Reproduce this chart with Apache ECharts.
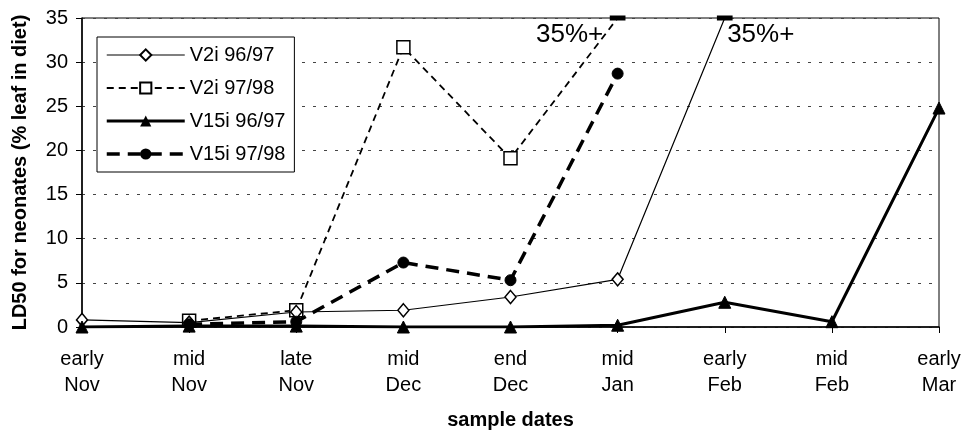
<!DOCTYPE html>
<html>
<head>
<meta charset="utf-8">
<script src="https://cdn.jsdelivr.net/npm/echarts@6/dist/echarts.min.js"></script>
<style>
html,body{margin:0;padding:0;background:#fff;}
#chart{width:962px;height:434px;}
</style>
</head>
<body>
<div id="chart"></div>
<script>
const categories = ['early\nNov','mid\nNov','late\nNov','mid\nDec','end\nDec','mid\nJan','early\nFeb','mid\nFeb','early\nMar'];
const yTicks = [0, 5, 10, 15, 20, 25, 30, 35];
const seriesNames = ['V2i 96/97', 'V2i 97/98', 'V15i 96/97', 'V15i 97/98'];
const v2i9697 = [0.8, 0.5, 1.7, 1.9, 3.4, 5.4, 35, null, null];
const v2i9798 = [null, 0.7, 1.9, 31.7, 19.1, 35, null, null, null];
const v15i9697 = [0, 0.1, 0.1, 0, 0, 0.2, 2.8, 0.6, 24.8];
const v15i9798 = [null, 0.3, 0.6, 7.3, 5.3, 28.7, null, null, null];
const capLabel = '35%+';
const capValue = 35;

const FONT = 'Liberation Sans, Arial, Helvetica, sans-serif';

const styles = [
  {symbol: 'diamond', symbolSize: [11, 13], line: {color: '#000', width: 1.2, type: 'solid'}, item: {color: '#fff', borderColor: '#000', borderWidth: 1.5}},
  {symbol: 'rect', symbolSize: 13, line: {color: '#000', width: 1.8, type: [7, 5]}, item: {color: '#fff', borderColor: '#000', borderWidth: 1.5}},
  {symbol: 'triangle', symbolSize: 12, line: {color: '#000', width: 3, type: 'solid'}, item: {color: '#000', borderColor: '#000'}},
  {symbol: 'circle', symbolSize: 11, line: {color: '#000', width: 3.5, type: [13, 8]}, item: {color: '#000', borderColor: '#000'}}
];

function withCap(arr){
  return arr.map(v => v === capValue ? {value: v, symbol: 'rect', symbolSize: [13, 4], itemStyle: {color: '#000', borderColor: '#000'}} : v);
}
function capMark(arr, offset){
  const i = arr.indexOf(capValue);
  return {
    silent: true,
    symbol: 'circle', symbolSize: 1,
    itemStyle: {color: 'rgba(0,0,0,0)'},
    label: {show: true, formatter: capLabel, color: '#000', fontFamily: FONT, fontSize: 26, offset: offset, position: 'inside'},
    data: [{coord: [i, capValue]}]
  };
}

const chart = echarts.init(document.getElementById('chart'), null, {renderer: 'canvas'});
chart.setOption({
  animation: false,
  backgroundColor: '#fff',
  textStyle: {fontFamily: FONT, color: '#000'},
  grid: {left: 82, right: 23, top: 18, bottom: 107, containLabel: false, outerBoundsMode: 'none', show: true, borderColor: '#000', borderWidth: 1, backgroundColor: 'transparent'},
  legend: {
    orient: 'vertical', left: 97, top: 37,
    padding: [8, 9, 8, 8],
    itemWidth: 78, itemHeight: 14, itemGap: 13,
    backgroundColor: '#fff', borderColor: '#000', borderWidth: 1,
    textStyle: {fontFamily: FONT, fontSize: 20, color: '#000'},
    data: seriesNames.map((n, i) => ({name: n, lineStyle: {width: styles[i].line.width, type: styles[i].line.type, color: '#000'}}))
  },
  xAxis: {
    type: 'category', data: categories, boundaryGap: false,
    name: 'sample dates', nameLocation: 'middle', nameGap: 83,
    nameTextStyle: {fontFamily: FONT, fontSize: 20, fontWeight: 'bold', color: '#000'},
    axisLine: {lineStyle: {color: '#000', width: 1.5}},
    axisTick: {show: true, alignWithLabel: true, length: 6, lineStyle: {color: '#000'}},
    axisLabel: {fontFamily: FONT, fontSize: 20, lineHeight: 26, margin: 19, color: '#000', interval: 0},
    splitLine: {show: false}
  },
  yAxis: {
    type: 'value', min: yTicks[0], max: yTicks[yTicks.length - 1], interval: 5,
    name: 'LD50 for neonates (% leaf in diet)', nameLocation: 'middle', nameGap: 52,
    nameTextStyle: {fontFamily: FONT, fontSize: 20, fontWeight: 'bold', color: '#000'},
    axisLine: {show: true, lineStyle: {color: '#000', width: 1.5}},
    axisTick: {show: true, length: 6, lineStyle: {color: '#000'}},
    axisLabel: {fontFamily: FONT, fontSize: 20, margin: 14, color: '#000'},
    splitLine: {show: true, lineStyle: {color: '#444', width: 1, type: [3, 8]}}
  },
  series: [
    {
      name: seriesNames[0], type: 'line', data: withCap(v2i9697), connectNulls: false,
      symbol: styles[0].symbol, symbolSize: styles[0].symbolSize, z: 4,
      lineStyle: styles[0].line, itemStyle: styles[0].item,
      markPoint: capMark(v2i9697, [36, 17])
    },
    {
      name: seriesNames[1], type: 'line', data: withCap(v2i9798), connectNulls: false,
      symbol: styles[1].symbol, symbolSize: styles[1].symbolSize, z: 3,
      lineStyle: styles[1].line, itemStyle: styles[1].item,
      markPoint: capMark(v2i9798, [-48, 17])
    },
    {
      name: seriesNames[2], type: 'line', data: v15i9697, connectNulls: false,
      symbol: styles[2].symbol, symbolSize: styles[2].symbolSize, z: 5,
      lineStyle: styles[2].line, itemStyle: styles[2].item
    },
    {
      name: seriesNames[3], type: 'line', data: v15i9798, connectNulls: false,
      symbol: styles[3].symbol, symbolSize: styles[3].symbolSize, z: 4,
      lineStyle: styles[3].line, itemStyle: styles[3].item
    }
  ]
});
</script>
</body>
</html>
